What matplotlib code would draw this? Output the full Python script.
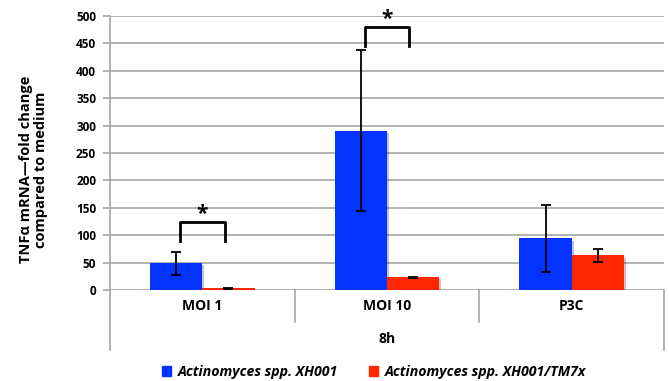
import numpy as np
import matplotlib
matplotlib.use("Agg")
from matplotlib import pyplot as plt
from matplotlib import patheffects
from matplotlib.patches import Patch

plt.rcParams['font.family'] = ['Open Sans', 'DejaVu Sans']

categories = ['MOI 1', 'MOI 10', 'P3C']
group_label = '8h'
series_names = ['Actinomyces spp. XH001', 'Actinomyces spp. XH001/TM7x']
xh001 = [49, 291, 94]
xh001_err = [21, 147, 62]
tm7x = [3, 23, 63]
tm7x_err = [1, 1, 11]
yticks = list(range(0, 501, 50))

blue = '#0433FF'
red = '#FF2600'
grid_c = '#A6A6A6'

fig = plt.figure(figsize=(6.69, 3.81), dpi=100)
ax = fig.add_axes([110 / 669, 91 / 381, 554 / 669, 274 / 381])

x = np.arange(len(categories))
w = 0.283
shadow = [patheffects.SimplePatchShadow(offset=(1.5, -1.5), alpha=0.25), patheffects.Normal()]
ax.bar(x - w / 2, xh001, w, color=blue, zorder=3, path_effects=shadow)
ax.bar(x + w / 2, tm7x, w, color=red, zorder=3, path_effects=shadow)
ax.errorbar(x - w / 2, xh001, yerr=xh001_err, fmt='none', ecolor='black',
            elinewidth=1.3, capsize=3.5, capthick=1.3, zorder=4)
ax.errorbar(x + w / 2, tm7x, yerr=tm7x_err, fmt='none', ecolor='black',
            elinewidth=1.3, capsize=3.5, capthick=1.3, zorder=4)

ax.set_xlim(-0.5, 2.5)
ax.set_ylim(0, 500)
ax.set_yticks(yticks)
ax.yaxis.grid(True, color=grid_c, linewidth=1.2)
ax.set_axisbelow(True)
for s in ['top', 'right', 'bottom']:
    ax.spines[s].set_visible(False)
ax.spines['left'].set_color(grid_c)
ax.spines['left'].set_linewidth(1.2)
ax.spines['left'].set_bounds(0, 500)
ax.tick_params(axis='y', color=grid_c, length=5, width=1.2, labelsize=8.5, pad=5)
for lab in ax.get_yticklabels():
    lab.set_fontweight('bold')
ax.set_xticks([])
ax.set_ylabel('TNFα mRNA—fold change\ncompared to medium', fontsize=10.5,
              fontweight='bold', linespacing=1.05)
ax.yaxis.set_label_coords(-62 / 554, 0.44)

# multi-level category axis drawn below the plot
tr = ax.get_xaxis_transform()
ax.plot([-0.5, -0.5], [0, -0.22], transform=tr, color=grid_c, lw=1.2, clip_on=False)
ax.plot([2.5, 2.5], [0, -0.22], transform=tr, color=grid_c, lw=1.2, clip_on=False)
for xs in [0.5, 1.5]:
    ax.plot([xs, xs], [0, -0.115], transform=tr, color=grid_c, lw=1.2, clip_on=False)
for xi, c in zip(x, categories):
    ax.text(xi, -0.06, c, transform=tr, ha='center', va='center',
            fontsize=10, fontweight='bold')
ax.text(1, -0.18, group_label, transform=tr, ha='center', va='center',
        fontsize=10, fontweight='bold')

# significance brackets
def bracket(xc, y0, y1):
    xl = xc - w / 2 + 0.02
    xr = xc + w / 2 - 0.02
    ax.plot([xl, xl, xr, xr], [y0, y1, y1, y0], color='black', lw=2,
            solid_joinstyle='round', zorder=5, clip_on=False)
    ax.text(xc, y1 - 5, '*', ha='center', va='bottom', fontsize=15,
            fontweight='bold', clip_on=False)

bracket(0, 90, 124)
bracket(1, 446, 480)

handles = [Patch(color=blue), Patch(color=red)]
fig.legend(handles, series_names, loc='center', bbox_to_anchor=(374 / 669, 9 / 381),
           ncol=2, frameon=False, handlelength=0.65, handleheight=0.65,
           columnspacing=2.2, handletextpad=0.45,
           prop={'weight': 'bold', 'style': 'italic', 'size': 10.2})

fig.savefig('out.png', dpi=100)
